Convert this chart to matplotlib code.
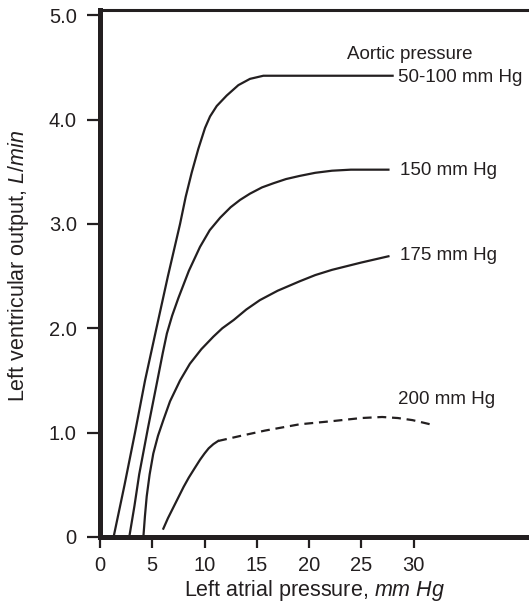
import matplotlib
matplotlib.use("Agg")
import matplotlib.pyplot as plt

plt.rcParams['font.family'] = ['Liberation Sans', 'DejaVu Sans']
plt.rcParams['mathtext.fontset'] = 'custom'
plt.rcParams['mathtext.rm'] = 'Liberation Sans'
plt.rcParams['mathtext.it'] = 'Liberation Sans:italic'

# -----------------------
# DONNÉES
# -----------------------
# aortic pressure 50-100 mm Hg
x_100 = [1.3, 2.35, 3.35, 4.31, 5.4, 6.5, 7.66, 8.2, 8.77, 9.41, 10.05, 10.53,
         11.17, 12.12, 13.24, 14.35, 15.63, 28.0]
y_100 = [0.0, 0.5, 1.0, 1.5, 2.0, 2.5, 3.0, 3.26, 3.49, 3.72, 3.92, 4.03,
         4.13, 4.23, 4.33, 4.39, 4.42, 4.42]

# 150 mm Hg
x_150 = [2.8, 3.3, 3.75, 4.6, 5.49, 6.0, 6.4, 6.9, 7.5, 8.5, 9.57, 10.5, 11.5,
         12.5, 13.4, 14.35, 15.5, 16.6, 17.8, 19.1, 20.6, 22.2, 24.0, 27.6]
y_150 = [0.0, 0.3, 0.6, 1.05, 1.5, 1.76, 1.95, 2.12, 2.29, 2.55, 2.78, 2.94, 3.06,
         3.16, 3.23, 3.29, 3.35, 3.39, 3.43, 3.46, 3.49, 3.51, 3.52, 3.52]

# 175 mm Hg
x_175 = [4.15, 4.3, 4.47, 4.75, 5.1, 5.55, 6.06, 6.7, 7.66, 8.6, 9.7, 10.85,
         11.7, 12.8, 14.0, 15.3, 17.0, 19.1, 20.6, 22.2, 25.0, 27.6]
y_175 = [0.0, 0.2, 0.39, 0.6, 0.8, 0.97, 1.12, 1.3, 1.5, 1.66, 1.8, 1.92,
         2.0, 2.08, 2.18, 2.27, 2.36, 2.45, 2.51, 2.56, 2.63, 2.69]

# 200 mm Hg : partie pleine puis pointillée
x_200 = [6.06, 6.5, 7.0, 7.5, 8.0, 8.5, 9.0, 9.57, 10.0, 10.4, 10.85, 11.3]
y_200 = [0.08, 0.18, 0.28, 0.38, 0.48, 0.57, 0.65, 0.74, 0.8, 0.85, 0.89, 0.92]
x_200_dash = [11.3, 13.5, 15.8, 19.1, 22.2, 25.0, 27.0, 28.5, 29.9, 31.6]
y_200_dash = [0.92, 0.97, 1.02, 1.08, 1.11, 1.14, 1.15, 1.14, 1.12, 1.08]

x_ticks = [0, 5, 10, 15, 20, 25, 30]
y_ticks = [0, 1, 2, 3, 4, 5]
y_tick_labels = ["0", "1.0", "2.0", "3.0", "4.0", "5.0"]

# -----------------------
# FIGURE
# -----------------------
ink = "#231f20"
fig = plt.figure(figsize=(5.29, 6.06), dpi=100)
ax = fig.add_axes([100/529, 1 - 537/606, 429/529, 527/606])

lw = 1.6
ax.plot(x_100, y_100, color=ink, lw=lw, solid_joinstyle="round")
ax.plot(x_150, y_150, color=ink, lw=lw, solid_joinstyle="round")
ax.plot(x_175, y_175, color=ink, lw=lw, solid_joinstyle="round")
ax.plot(x_200, y_200, color=ink, lw=lw, solid_joinstyle="round")
ax.plot(x_200_dash, y_200_dash, color=ink, lw=lw, dashes=(4, 2.6))

ax.set_xlim(0, 41.05)
ax.set_ylim(0, 5.05)

fs = 13.5
ax.text(23.6, 4.62, "Aortic pressure", fontsize=fs, va="center", ha="left", color=ink)
ax.text(28.5, 4.40, "50-100 mm Hg", fontsize=fs, va="center", ha="left", color=ink)
ax.text(28.7, 3.51, "150 mm Hg", fontsize=fs, va="center", ha="left", color=ink)
ax.text(28.7, 2.70, "175 mm Hg", fontsize=fs, va="center", ha="left", color=ink)
ax.text(28.5, 1.32, "200 mm Hg", fontsize=fs, va="center", ha="left", color=ink)

ax.set_xticks(x_ticks)
ax.set_xticklabels([str(v) for v in x_ticks], fontsize=14.5, color=ink)
ax.set_yticks(y_ticks)
ax.set_yticklabels(y_tick_labels, fontsize=14.5, color=ink)

ax.tick_params(axis="y", direction="out", length=9.7, width=1.6, pad=7, color=ink)
ax.tick_params(axis="x", direction="out", length=8, width=1.6, pad=6, color=ink)

ax.set_xlabel("Left atrial pressure, $mm\\ Hg$", fontsize=15.5, labelpad=2, color=ink)
ax.set_ylabel("Left ventricular output, $L/min$", fontsize=15.5, color=ink)
ax.yaxis.set_label_coords(-0.16, 0.515)

ax.spines["right"].set_visible(False)
ax.spines["left"].set_linewidth(3.6)
ax.spines["bottom"].set_linewidth(3.6)
ax.spines["top"].set_linewidth(2.2)
for s in ax.spines.values():
    s.set_color(ink)

fig.savefig("out.png", dpi=100)
